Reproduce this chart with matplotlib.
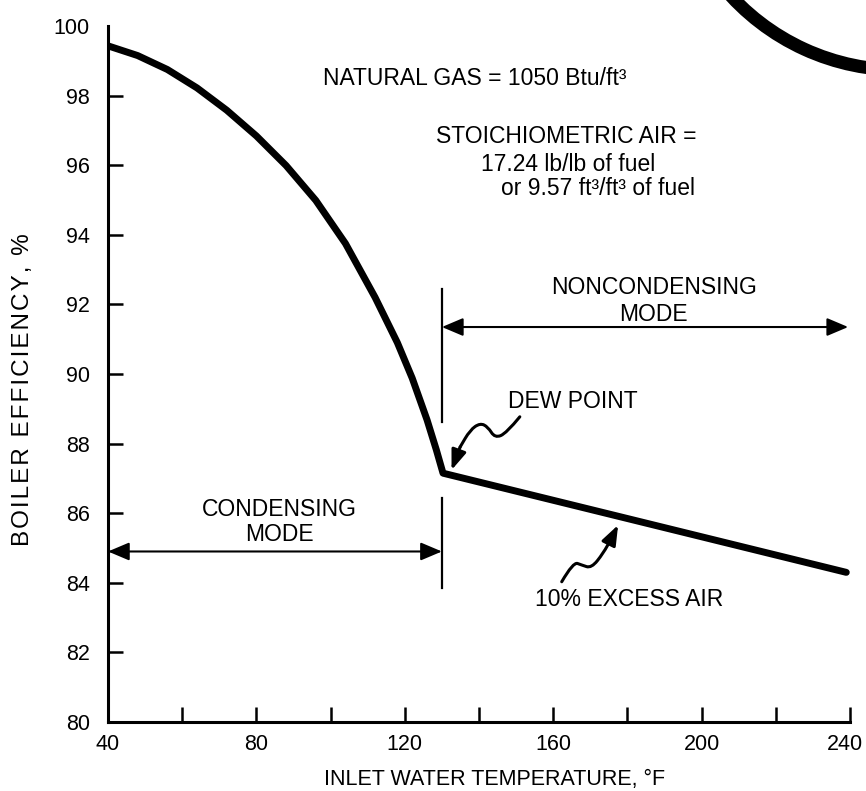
import matplotlib
matplotlib.use("Agg")
import matplotlib.pyplot as plt
import matplotlib.transforms as mtransforms
from matplotlib.path import Path
from matplotlib.patches import PathPatch, Arc

plt.rcParams['font.family'] = ['Liberation Sans', 'DejaVu Sans']

# ---- data ----
temp_f = [40, 48, 56, 64, 72, 80, 88, 96, 104, 112, 118, 122, 126, 128.5, 130.3, 239]
efficiency = [99.43, 99.15, 98.75, 98.22, 97.58, 96.84, 95.99, 94.99, 93.75, 92.2,
              90.9, 89.88, 88.68, 87.82, 87.15, 84.3]

x_major = [40, 80, 120, 160, 200, 240]
x_minor = [60, 100, 140, 180, 220]
y_ticks = [80, 82, 84, 86, 88, 90, 92, 94, 96, 98, 100]
y_tick_marks = [82, 84, 86, 88, 90, 92, 94, 96, 98]

dew_point_x = 130
condensing_y = 84.9
noncondensing_y = 91.35

dew_squiggle = [(151.0, 88.77), (147.4, 88.3), (144.3, 88.16), (142.4, 88.48),
                (140.3, 88.59), (137.6, 88.39), (134.9, 87.9), (132.6, 87.24)]
air_squiggle = [(162.3, 84.03), (165.4, 84.6), (167.7, 84.51), (170.3, 84.42),
                (173.5, 84.85), (175.7, 85.28), (177.5, 85.66)]

W, H = 866, 791
fig = plt.figure(figsize=(W / 100, H / 100), dpi=100)
ax = fig.add_axes([108 / W, 1 - 722 / H, (850 - 108) / W, (722 - 26) / H])

ax.plot(temp_f, efficiency, color='black', lw=5, solid_joinstyle='round',
        solid_capstyle='round', zorder=3)

ax.set_xlim(40, 240)
ax.set_ylim(80, 100)
for s in ['top', 'right']:
    ax.spines[s].set_visible(False)
for s in ['left', 'bottom']:
    ax.spines[s].set_linewidth(2.2)

fs = 15.5
ax.set_xticks(x_major)
ax.set_xticks(x_minor, minor=True)
ax.set_xticklabels([str(v) for v in x_major], fontsize=fs)
ax.set_yticks(y_ticks)
ax.set_yticklabels([str(v) for v in y_ticks], fontsize=fs)
ax.tick_params(axis='x', which='both', direction='in', length=11, width=1.8, pad=9)
ax.tick_params(axis='y', which='both', direction='in', length=11, width=1.8, pad=13)
for t, v in zip(ax.yaxis.get_major_ticks(), y_ticks):
    if v not in y_tick_marks:
        t.tick1line.set_visible(False)
# keep the last x label inside the canvas
last = ax.get_xticklabels()[-1]
last.set_transform(last.get_transform() +
                   mtransforms.ScaledTranslation(-5 / 100, 0, fig.dpi_scale_trans))

ax.set_xlabel('INLET WATER TEMPERATURE, °F', fontsize=fs, va='center')
ax.xaxis.set_label_coords((495 - 108) / 742, (722 - 780) / 696)
ylab = '\u200a'.join('BOILER EFFICIENCY, %')
ax.set_ylabel(ylab, fontsize=17.5, va='center', ha='center')
ax.yaxis.set_label_coords((23 - 108) / 742, (722 - 390) / 696)

ax.plot([dew_point_x, dew_point_x], [88.62, 92.44], color='black', lw=1.6)
ax.plot([dew_point_x, dew_point_x], [83.85, 86.44], color='black', lw=1.6)

arrow_kw = dict(arrowstyle='<|-|>,head_length=1.3,head_width=0.55', color='black',
                lw=1.5, mutation_scale=10, shrinkA=0, shrinkB=0)
ax.annotate('', xy=(40, condensing_y), xytext=(dew_point_x, condensing_y), arrowprops=arrow_kw)
ax.annotate('', xy=(dew_point_x, noncondensing_y), xytext=(239.5, noncondensing_y), arrowprops=arrow_kw)


def squiggle(pts):
    verts = [pts[0]]
    codes = [Path.MOVETO]
    for i in range(1, len(pts) - 2):
        mid = ((pts[i][0] + pts[i + 1][0]) / 2, (pts[i][1] + pts[i + 1][1]) / 2)
        verts += [pts[i], mid]
        codes += [Path.CURVE3, Path.CURVE3]
    verts.append(pts[-2])
    codes.append(Path.LINETO)
    ax.add_patch(PathPatch(Path(verts, codes), fill=False, lw=2.2, edgecolor='black',
                           capstyle='round'))
    ax.annotate('', xy=pts[-1], xytext=pts[-2],
                arrowprops=dict(arrowstyle='-|>,head_length=1.2,head_width=0.45',
                                color='black', lw=2.2, mutation_scale=10,
                                shrinkA=0, shrinkB=0))


squiggle(dew_squiggle)
squiggle(air_squiggle)

tkw = dict(fontsize=16.5, color='black', va='baseline', ha='center')
ax.text(138.9, 98.31, 'NATURAL GAS = 1050 Btu/ft³', **tkw)
ax.text(163.6, 96.65, 'STOICHIOMETRIC AIR =', **tkw)
ax.text(163.9, 95.84, '17.24 lb/lb of fuel', **tkw)
ax.text(172.2, 95.15, 'or 9.57 ft³/ft³ of fuel', **tkw)
ax.text(187.2, 92.29, 'NONCONDENSING', **tkw)
ax.text(186.9, 91.52, 'MODE', **tkw)
ax.text(165.3, 89.03, 'DEW POINT', **tkw)
ax.text(86.1, 85.93, 'CONDENSING', **tkw)
ax.text(86.1, 85.21, 'MODE', **tkw)
ax.text(180.4, 83.34, '10% EXCESS AIR', **tkw)

fig.patches.append(Arc((900 / W, (H + 160) / H), 2 * 230 / W, 2 * 230 / H,
                       theta1=195, theta2=295, lw=9.4, color='black',
                       transform=fig.transFigure, figure=fig))

fig.savefig('out.png', dpi=100, facecolor='white')
